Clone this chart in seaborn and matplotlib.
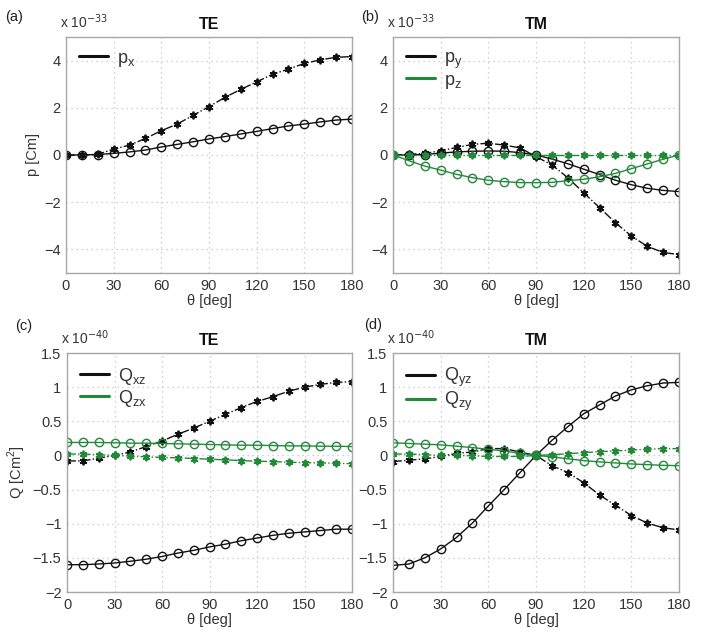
import numpy as np
import pandas as pd
import matplotlib
matplotlib.use("Agg")
import matplotlib.pyplot as plt
from matplotlib.lines import Line2D
import seaborn as sns

theta = list(range(0, 181, 10))

# (a) TE, units of 1e-33 Cm
px_circ = [0, 0, 0.02, 0.07, 0.13, 0.21, 0.34, 0.45, 0.56, 0.68, 0.78, 0.89, 1.0, 1.12, 1.23, 1.31, 1.40, 1.48, 1.52]
px_star = [0, 0, 0.03, 0.25, 0.42, 0.70, 1.03, 1.31, 1.68, 2.05, 2.44, 2.78, 3.10, 3.42, 3.64, 3.88, 4.03, 4.14, 4.17]

# (b) TM
py_circ = [0, 0, 0.02, 0.08, 0.13, 0.16, 0.17, 0.16, 0.10, 0, -0.17, -0.37, -0.60, -0.83, -1.07, -1.26, -1.41, -1.50, -1.55]
py_star = [0, 0.03, 0.07, 0.18, 0.32, 0.45, 0.50, 0.42, 0.30, -0.07, -0.42, -0.96, -1.60, -2.23, -2.87, -3.43, -3.87, -4.13, -4.22]
pz_circ = [0, -0.24, -0.47, -0.64, -0.82, -0.96, -1.07, -1.13, -1.17, -1.17, -1.16, -1.09, -1.03, -0.92, -0.78, -0.58, -0.38, -0.18, 0]
pz_star = [0] * 19

# (c) TE, units of 1e-40 Cm^2
qxz_circ = [-1.60, -1.60, -1.59, -1.575, -1.55, -1.52, -1.48, -1.43, -1.39, -1.34, -1.30, -1.25, -1.21, -1.17, -1.14, -1.12, -1.10, -1.08, -1.08]
qxz_star = [-0.08, -0.08, -0.04, 0.0, 0.05, 0.13, 0.21, 0.31, 0.40, 0.50, 0.60, 0.70, 0.79, 0.86, 0.94, 1.00, 1.04, 1.07, 1.08]
qzx_circ = [0.19, 0.19, 0.19, 0.185, 0.18, 0.18, 0.175, 0.17, 0.165, 0.16, 0.155, 0.15, 0.15, 0.145, 0.14, 0.14, 0.135, 0.135, 0.13]
qzx_star = [0.02, 0.02, 0.01, 0, -0.01, -0.02, -0.03, -0.035, -0.045, -0.055, -0.065, -0.075, -0.085, -0.09, -0.10, -0.105, -0.11, -0.115, -0.12]

# (d) TM
qyz_circ = [-1.61, -1.59, -1.50, -1.37, -1.20, -0.99, -0.74, -0.50, -0.25, 0, 0.22, 0.42, 0.61, 0.74, 0.87, 0.96, 1.02, 1.06, 1.07]
qyz_star = [-0.09, -0.07, -0.05, -0.015, 0.03, 0.05, 0.10, 0.10, 0.05, 0, -0.15, -0.25, -0.40, -0.58, -0.73, -0.88, -0.99, -1.06, -1.09]
qzy_circ = [0.185, 0.175, 0.165, 0.155, 0.135, 0.115, 0.09, 0.065, 0.03, 0, -0.02, -0.05, -0.075, -0.095, -0.11, -0.125, -0.135, -0.145, -0.15]
qzy_star = [0.02, 0.02, 0.01, 0, 0, -0.005, -0.015, -0.015, -0.015, 0, 0.01, 0.025, 0.04, 0.055, 0.065, 0.08, 0.09, 0.10, 0.10]

xticks = [0, 30, 60, 90, 120, 150, 180]
p_ticks = [-4, -2, 0, 2, 4]
p_ticklabels = ["\u22124", "\u22122", "0", "2", "4"]
q_ticks = [-2, -1.5, -1, -0.5, 0, 0.5, 1, 1.5]
q_ticklabels = ["\u22122", "\u22121.5", "\u22121", "\u22120.5", "0", "0.5", "1", "1.5"]

sns.set_style("white")
plt.rcParams["font.family"] = ["Liberation Sans", "DejaVu Sans"]

BLACK = "#111111"
GREEN = "#23893a"
TXT = "#333333"
SPINE = "#a8a8a8"

fig = plt.figure(figsize=(7.02, 6.33), dpi=100)
W, H = 702.0, 633.0

def make_ax(l, r, t, b):
    return fig.add_axes([l / W, 1 - b / H, (r - l) / W, (b - t) / H])

ax_a = make_ax(66, 352, 37, 273)
ax_b = make_ax(393, 679, 37, 273)
ax_c = make_ax(67, 352, 353, 592)
ax_d = make_ax(393, 679, 353, 592)

STAR = (6, 2, 0)

def draw(ax, vals, color, kind):
    df = pd.DataFrame({"theta": theta, "v": vals})
    if kind == "o":
        sns.lineplot(data=df, x="theta", y="v", ax=ax, color=color, linewidth=1.0,
                     marker="o", markersize=6.0, markerfacecolor="none",
                     markeredgecolor=color, markeredgewidth=1.0, linestyle="-", legend=False)
    else:
        sns.lineplot(data=df, x="theta", y="v", ax=ax, color=color, linewidth=1.0,
                     marker=STAR, markersize=5.5, markeredgecolor=color,
                     markeredgewidth=1.3, linestyle="-.", legend=False)

draw(ax_a, px_star, BLACK, "*")
draw(ax_a, px_circ, BLACK, "o")

draw(ax_b, py_star, BLACK, "*")
draw(ax_b, py_circ, BLACK, "o")
draw(ax_b, pz_star, GREEN, "*")
draw(ax_b, pz_circ, GREEN, "o")

draw(ax_c, qxz_star, BLACK, "*")
draw(ax_c, qxz_circ, BLACK, "o")
draw(ax_c, qzx_star, GREEN, "*")
draw(ax_c, qzx_circ, GREEN, "o")

draw(ax_d, qyz_star, BLACK, "*")
draw(ax_d, qyz_circ, BLACK, "o")
draw(ax_d, qzy_star, GREEN, "*")
draw(ax_d, qzy_circ, GREEN, "o")

def style(ax, yt, ytl, ylim, title, exp, legend_items, ylabel=None):
    ax.set_xlim(0, 180)
    ax.set_ylim(*ylim)
    ax.set_xticks(xticks)
    ax.set_xticklabels([str(x) for x in xticks])
    ax.set_yticks(yt)
    ax.set_yticklabels(ytl)
    ax.grid(True, color="#c4c4c4", linestyle=(0, (1, 3)), linewidth=0.9)
    for s in ax.spines.values():
        s.set_color(SPINE)
        s.set_linewidth(1.0)
    ax.tick_params(axis="both", direction="in", length=3, width=0.8, color=SPINE,
                   labelsize=10.5, labelcolor=TXT, pad=4)
    ax.set_xlabel("\u03b8 [deg]", fontsize=10.5, color=TXT, labelpad=1)
    if ylabel:
        ax.set_ylabel(ylabel, fontsize=10.5, color=TXT, labelpad=3)
    else:
        ax.set_ylabel("")
    ax.set_title(title, fontsize=11.5, fontweight="bold", color="#111111", pad=6)
    ax.text(-0.02, 1.025, "x 10$^{" + exp + "}$", transform=ax.transAxes,
            fontsize=10, color=TXT, ha="left", va="bottom")
    handles = [Line2D([0], [0], color=c, lw=2.2) for c, _ in legend_items]
    labels = [l for _, l in legend_items]
    ax.legend(handles, labels, loc="upper left", frameon=False, fontsize=13,
              handlelength=1.6, handletextpad=0.5, labelspacing=0.05,
              borderaxespad=0.3, labelcolor=TXT)

style(ax_a, p_ticks, p_ticklabels, (-5, 5), "TE", "\u221233",
      [(BLACK, "p$_\\mathregular{x}$")], ylabel="p [Cm]")
style(ax_b, p_ticks, p_ticklabels, (-5, 5), "TM", "\u221233",
      [(BLACK, "p$_\\mathregular{y}$"), (GREEN, "p$_\\mathregular{z}$")])
style(ax_c, q_ticks, q_ticklabels, (-2, 1.5), "TE", "\u221240",
      [(BLACK, "Q$_\\mathregular{xz}$"), (GREEN, "Q$_\\mathregular{zx}$")],
      ylabel="Q [Cm$^\\mathregular{2}$]")
style(ax_d, q_ticks, q_ticklabels, (-2, 1.5), "TM", "\u221240",
      [(BLACK, "Q$_\\mathregular{yz}$"), (GREEN, "Q$_\\mathregular{zy}$")])

for lab, x, y in [("(a)", 5, 17), ("(b)", 361, 17), ("(c)", 15, 326), ("(d)", 364, 325)]:
    fig.text(x / W, 1 - y / H, lab, fontsize=10.5, color="#222222", ha="left", va="center")

fig.savefig("out.png", dpi=100)
